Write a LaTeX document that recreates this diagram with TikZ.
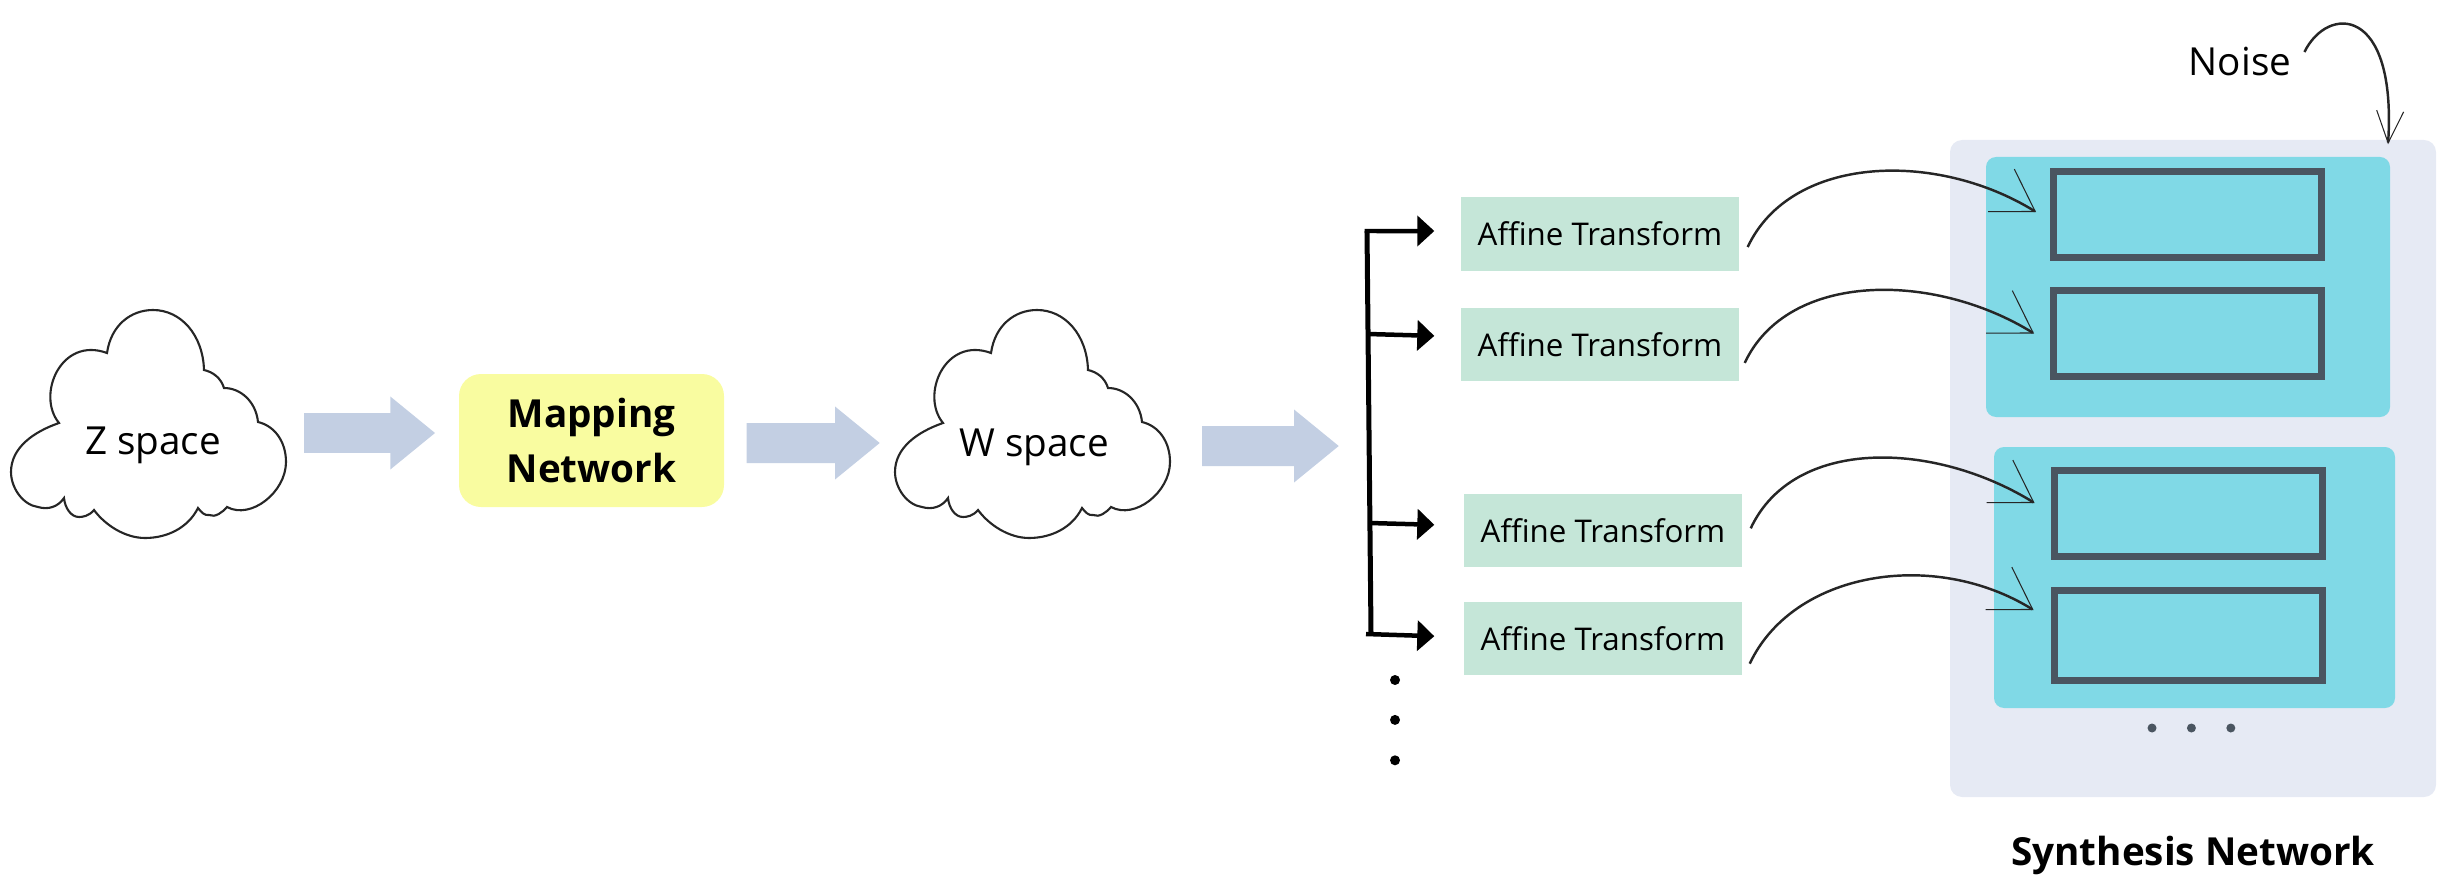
\documentclass[tikz,border=0pt]{standalone}
\usepackage{fontspec}
\setmainfont{Open Sans}
\usepackage{xcolor}
\usetikzlibrary{arrows.meta,calc,positioning}

\definecolor{panelblue}{HTML}{E6EAF4}
\definecolor{blockcyan}{HTML}{80D9E6}
\definecolor{framegrey}{HTML}{4A5560}
\definecolor{affinegreen}{HTML}{C5E6D8}
\definecolor{mapyellow}{HTML}{F9FCA0}
\definecolor{arrowblue}{HTML}{C3CFE3}

\newcommand{\cloudoutline}{
 (-.46,-.87) .. controls (-.42,-1.15) and (-.22,-1.30) .. (0,-1.30)
 .. controls (.28,-1.30) and (.50,-1.05) .. (.51,-.70)
 .. controls (.60,-.68) and (.68,-.62) .. (.71,-.52)
 .. controls (.88,-.52) and (1.03,-.38) .. (1.05,-.18)
 .. controls (1.22,-.14) and (1.33,.02) .. (1.33,.22)
 .. controls (1.33,.52) and (.98,.80) .. (.74,.67)
 .. controls (.70,.72) and (.62,.78) .. (.56,.75)
 .. controls (.52,.76) and (.48,.72) .. (.45,.68)
 .. controls (.35,.88) and (.14,.98) .. (-.08,.98)
 .. controls (-.28,.98) and (-.48,.85) .. (-.59,.70)
 .. controls (-.64,.76) and (-.70,.77) .. (-.74,.77)
 .. controls (-.82,.77) and (-.88,.68) .. (-.89,.58)
 .. controls (-.95,.67) and (-1.05,.70) .. (-1.15,.67)
 .. controls (-1.30,.65) and (-1.42,.48) .. (-1.42,.32)
 .. controls (-1.42,.08) and (-1.20,-.08) .. (-.94,-.17)
 .. controls (-1.17,-.45) and (-.92,-1.04) .. (-.46,-.87) -- cycle}

\begin{document}
\begin{tikzpicture}[
 y=-1cm,
 spacelabel/.style={inner sep=1pt,font=\fontsize{11}{13}\selectfont},
 cloudline/.style={draw=black!85,fill=white,line width=.6pt},
 mapbox/.style={fill=mapyellow,rounded corners=.22cm,minimum width=2.65cm,
   minimum height=1.33cm,align=center,inner sep=0pt,
   font=\fontsize{11}{15.4}\selectfont\bfseries},
 blockarrow/.style={-{Triangle[length=.45cm,width=.70cm]},draw=arrowblue,
   line width=.40cm},
 affine/.style={fill=affinegreen,minimum width=2.78cm,minimum height=.73cm,
   inner sep=0pt,font=\fontsize{8.9}{11}\selectfont},
 bus/.style={draw=black,line width=.05cm},
 branch/.style={-{Triangle[length=.17cm,width=.30cm]},draw=black,
   line width=.045cm},
 curved/.style={-{Straight Barb[length=.40cm,width=.50cm,line width=.3pt]},
   draw=black!85,line width=.7pt},
 noisecurve/.style={-{Straight Barb[length=.32cm,width=.27cm,line width=.3pt]},
   draw=black!85,line width=.7pt},
 panel/.style={fill=panelblue,rounded corners=.12cm,inner sep=0pt},
 stylebox/.style={fill=blockcyan,rounded corners=.10cm,inner sep=0pt},
 layerbox/.style={draw=framegrey,fill=blockcyan,line width=.07cm,
   minimum width=2.68cm,minimum height=.86cm,inner sep=0pt},
 dotmark/.style={circle,fill=black,minimum size=.10cm,inner sep=0pt},
 greydot/.style={circle,fill=framegrey,minimum size=.09cm,inner sep=0pt}
]
\useasboundingbox (0,0) rectangle (24.63,8.95);

% left part
\draw[cloudline,shift={(1.53,4.40)}] \cloudoutline;
\node[spacelabel] (zspace) at (1.53,4.45) {Z space};
\node[mapbox] (mapping) at (5.915,4.405) {Mapping\\Network};
\draw[cloudline,shift={(10.37,4.40)}] \cloudoutline;
\node[spacelabel] (wspace) at (10.34,4.47) {W space};

\draw[blockarrow] ([shift={(1.51,-.12)}]zspace.center)
 -- ([shift={(-.23,-.075)}]mapping.west);
\draw[blockarrow] ([shift={(.22,.025)}]mapping.east)
 -- ([shift={(-1.54,-.04)}]wspace.center);
\coordinate (busin) at (13.39,4.46);
\draw[blockarrow] ([shift={(1.68,-.01)}]wspace.center) -- (busin);

% affine column
\node[affine] (affine1) at (16.00,2.34) {Affine Transform};
\node[affine,below=.365cm of affine1] (affine2) {Affine Transform};
\node[affine,below=1.11cm of affine2,xshift=.03cm] (affine3) {Affine Transform};
\node[affine,below=.34cm of affine3] (affine4) {Affine Transform};

\coordinate (bustop) at (13.67,2.31);
\coordinate (busbottom) at (13.71,6.34);
\coordinate (bus2) at (13.68,3.34);
\coordinate (bus3) at (13.695,5.23);
\draw[bus] (bustop) -- (busbottom);
\draw[branch] ([xshift=-.025cm]bustop) -- ([shift={(-.26,-.03)}]affine1.west);
\draw[branch] (bus2) -- ([shift={(-.26,-.09)}]affine2.west);
\draw[branch] (bus3) -- ([shift={(-.29,-.055)}]affine3.west);
\draw[branch] ([xshift=-.05cm]busbottom) -- ([shift={(-.29,-.025)}]affine4.west);

\node[dotmark] (vdot1) at (13.95,6.80) {};
\node[dotmark,below=.285cm of vdot1] (vdot2) {};
\node[dotmark,below=.29cm of vdot2] (vdot3) {};

% synthesis network
\node[panel,minimum width=4.86cm,minimum height=6.57cm] (synthesis) at (21.93,4.685) {};
\node[stylebox,minimum width=4.04cm,minimum height=2.60cm] (style1) at (21.88,2.87) {};
\node[stylebox,minimum width=4.01cm,minimum height=2.61cm] (style2) at (21.945,5.775) {};
\node[layerbox] (layer1) at (21.875,2.145) {};
\node[layerbox] (layer2) at (21.875,3.335) {};
\node[layerbox] (layer3) at (21.88,5.13) {};
\node[layerbox,minimum height=.90cm] (layer4) at (21.88,6.35) {};

\node[greydot] (hdot1) at (21.52,7.28) {};
\node[greydot,right=.29cm of hdot1] (hdot2) {};
\node[greydot,right=.29cm of hdot2] (hdot3) {};

\node[below=.34cm of synthesis,inner sep=1pt,
      font=\fontsize{11}{13}\selectfont\bfseries] (synthlabel) {Synthesis Network};
\node[spacelabel] (noise) at (22.40,.62) {Noise};

\draw[curved] ([shift={(.08,.13)}]affine1.east) .. controls +(.43,-.92) and +(-1.00,-.62)
 .. ([shift={(-.14,-.025)}]layer1.west);
\draw[curved] ([shift={(.05,.18)}]affine2.east) .. controls +(.43,-.92) and +(-1.00,-.62)
 .. ([shift={(-.16,0)}]layer2.west);
\draw[curved] ([shift={(.08,-.02)}]affine3.east) .. controls +(.43,-.92) and +(-1.00,-.62)
 .. ([shift={(-.16,-.10)}]layer3.west);
\draw[curved] ([shift={(.07,.25)}]affine4.east) .. controls +(.43,-.92) and +(-1.00,-.62)
 .. ([shift={(-.17,-.25)}]layer4.west);
\draw[noisecurve] ([shift={(.09,-.10)}]noise.east) .. controls +(.23,-.47) and +(.09,-1.40)
 .. ([shift={(1.95,.05)}]synthesis.north);
\end{tikzpicture}
\end{document}
